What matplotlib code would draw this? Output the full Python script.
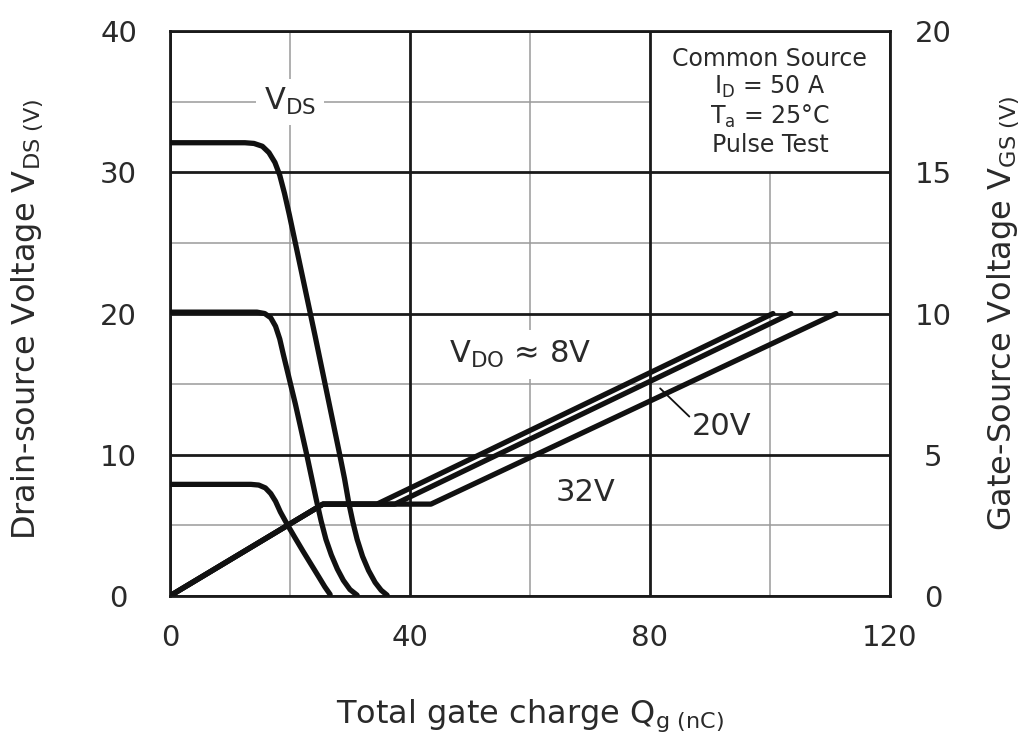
import matplotlib.pyplot as plt
from matplotlib.patches import Rectangle

plt.rcParams['font.family'] = ['DejaVu Sans']
plt.rcParams['mathtext.fontset'] = 'dejavusans'

TXT = '#2a2a2a'
INK = '#111111'

# Drain-source voltage vs gate charge, one trace per supply voltage
qg_vds_8 = [0, 13.5, 14.8, 15.9, 16.8, 17.6, 18.4, 19.5, 20.8, 22.2, 23.5, 24.8, 25.8, 26.7]
vds_8 = [7.9, 7.9, 7.85, 7.65, 7.25, 6.7, 5.95, 5.1, 4.15, 3.15, 2.25, 1.35, 0.65, 0.1]

qg_vds_20 = [0, 14.5, 15.8, 16.8, 17.6, 18.3, 18.9, 20.9, 22.8, 23.6, 24.4, 25.2, 26.0, 26.9, 27.9, 28.9, 30.0, 31.2]
vds_20 = [20.1, 20.1, 20.0, 19.7, 19.1, 18.2, 17.1, 13.6, 10.0, 8.4, 6.8, 5.3, 4.0, 2.9, 1.9, 1.1, 0.45, 0.05]

qg_vds_32 = [0, 12.5, 14.0, 15.4, 16.5, 17.5, 18.3, 19.1, 19.9, 24.2, 28.3, 29.1, 29.8, 30.5, 31.2, 32.1, 33.1, 34.2, 35.2, 36.2]
vds_32 = [32.1, 32.1, 32.05, 31.85, 31.4, 30.7, 29.8, 28.5, 27.0, 18.4, 10.0, 8.3, 6.6, 5.2, 4.0, 2.8, 1.8, 0.95, 0.4, 0.05]

# Gate-source voltage: common ramp, Miller plateau, final rise
qg_vgs_8 = [0, 25.5, 34.5, 100.5]
vgs_8 = [0, 3.25, 3.25, 10.0]
qg_vgs_20 = [0, 25.5, 37.5, 103.5]
vgs_20 = [0, 3.25, 3.25, 10.0]
qg_vgs_32 = [0, 25.5, 43.5, 111.0]
vgs_32 = [0, 3.25, 3.25, 10.0]

x_major = [0, 40, 80, 120]
x_minor = [20, 60, 100]
y_major = [0, 10, 20, 30, 40]
y_minor = [5, 15, 25, 35]
y2_ticks = [0, 5, 10, 15, 20]

fig = plt.figure(figsize=(10.3, 7.43), dpi=100)
ax = fig.add_axes([0.165, 0.198, 0.699, 0.760])
ax.set_xlim(0, 120)
ax.set_ylim(0, 40)

# grid: thin grey minor lines, heavy black major lines
for x in x_minor:
    ax.axvline(x, color='#9a9a9a', lw=1.1, zorder=0.5)
for y in y_minor:
    ax.axhline(y, color='#9a9a9a', lw=1.1, zorder=0.5)
ax.add_patch(Rectangle((80, 30), 40, 10, facecolor='white', edgecolor='none', zorder=1))
for x in x_major:
    ax.axvline(x, color='#1a1a1a', lw=2.0, zorder=2)
for y in y_major:
    ax.axhline(y, color='#1a1a1a', lw=2.0, zorder=2)
for s in ax.spines.values():
    s.set_linewidth(2.0)
    s.set_color('#1a1a1a')

for q, v in [(qg_vds_8, vds_8), (qg_vds_20, vds_20), (qg_vds_32, vds_32)]:
    ax.plot(q, v, color=INK, lw=3.8, solid_capstyle='round', solid_joinstyle='round', zorder=4)

ax.set_xticks(x_major)
ax.set_yticks(y_major)
ax.tick_params(axis='both', length=0, labelsize=21, labelcolor=TXT)
ax.tick_params(axis='x', pad=20)
ax.tick_params(axis='y', pad=37)
for lbl in ax.get_yticklabels():
    lbl.set_ha('center')

ax.set_xlabel(r'Total gate charge Q$_\mathrm{g\ (nC)}$', fontsize=23, color=TXT)
ax.xaxis.set_label_coords(0.5, -0.18)
ax.set_ylabel(r'Drain-source Voltage V$_\mathrm{DS\ (V)}$', fontsize=23, color=TXT)
ax.yaxis.set_label_coords(-0.174, 0.49)

ax.text(100, 35, 'Common Source\nI$_\\mathrm{D}$ = 50 A\nT$_\\mathrm{a}$ = 25°C\nPulse Test',
        ha='center', va='center', fontsize=17, color=TXT, linespacing=1.15, zorder=3)
ax.text(20, 35, r'V$_\mathrm{DS}$', ha='center', va='center', fontsize=22, color=TXT, zorder=3,
        bbox=dict(boxstyle='square,pad=0.25', fc='white', ec='none'))
ax.text(58.3, 17.1, r'V$_\mathrm{DO}$ ≈ 8V', ha='center', va='center', fontsize=22, color=TXT, zorder=3,
        bbox=dict(boxstyle='square,pad=0.3', fc='white', ec='none'))

ax2 = ax.twinx()
ax2.set_ylim(0, 20)
ax2.set_yticks(y2_ticks)
for s in ax2.spines.values():
    s.set_visible(False)
ax2.tick_params(axis='y', length=0, labelsize=21, labelcolor=TXT, pad=31)
for lbl in ax2.get_yticklabels():
    lbl.set_ha('center')
ax2.set_ylabel(r'Gate-Source Voltage V$_\mathrm{GS\ (V)}$', fontsize=23, color=TXT)
ax2.yaxis.set_label_coords(1.132, 0.5)

for q, v in [(qg_vgs_8, vgs_8), (qg_vgs_20, vgs_20), (qg_vgs_32, vgs_32)]:
    ax2.plot(q, v, color=INK, lw=3.8, solid_capstyle='round', solid_joinstyle='round', zorder=4)

ax2.text(69.2, 3.65, '32V', ha='center', va='center', fontsize=22, color=TXT)
ax2.annotate('20V', xy=(81.7, 7.35), xytext=(92, 6.0), ha='center', va='center',
             fontsize=22, color=TXT,
             arrowprops=dict(arrowstyle='-', color=INK, lw=1.3, shrinkA=0, shrinkB=0,
                             relpos=(0.0, 0.75)))

fig.savefig('out.png', dpi=100)
